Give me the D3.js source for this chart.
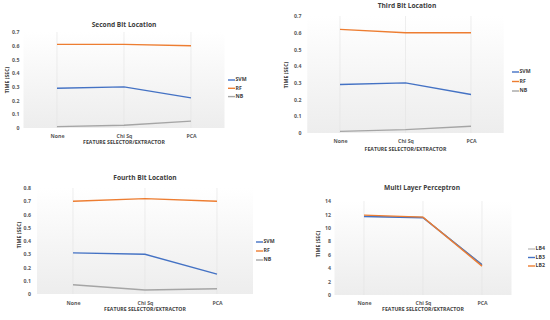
<!DOCTYPE html>
<html><head><meta charset="utf-8">
<script src="https://cdn.jsdelivr.net/npm/d3@7"></script>
<style>body{margin:0;background:#fff}svg{display:block}text{font-family:"Open Sans","Liberation Sans",sans-serif;font-weight:bold}</style>
</head><body>
<svg id="c" width="550" height="320"></svg>
<script>
const categories = ["None", "Chi Sq", "PCA"];
// Second Bit Location
const p1SVM = [0.29, 0.30, 0.22];
const p1RF  = [0.61, 0.61, 0.60];
const p1NB  = [0.01, 0.02, 0.05];
// Third Bit Location
const p2SVM = [0.29, 0.30, 0.23];
const p2RF  = [0.62, 0.60, 0.60];
const p2NB  = [0.01, 0.02, 0.04];
// Fourth Bit Location
const p3SVM = [0.31, 0.30, 0.15];
const p3RF  = [0.70, 0.72, 0.70];
const p3NB  = [0.07, 0.03, 0.04];
// Multi Layer Perceptron
const p4LB4 = [11.7, 11.6, 4.6];
const p4LB3 = [11.7, 11.5, 4.5];
const p4LB2 = [11.9, 11.6, 4.3];

const ticks1 = [0, 0.1, 0.2, 0.3, 0.4, 0.5, 0.6, 0.7];
const ticks3 = [0, 0.1, 0.2, 0.3, 0.4, 0.5, 0.6, 0.7, 0.8];
const ticks4 = [0, 2, 4, 6, 8, 10, 12, 14];

const BLUE = "#4472C4", ORANGE = "#ED7D31", GRAY = "#A5A5A5";

const svg = d3.select("#c");
const defs = svg.append("defs");
const grad = defs.append("linearGradient").attr("id", "bg").attr("x1", 0).attr("y1", 0).attr("x2", 0).attr("y2", 1);
grad.append("stop").attr("offset", "0%").attr("stop-color", "#ffffff");
grad.append("stop").attr("offset", "100%").attr("stop-color", "#ededed");

function panel(o) {
  const g = svg.append("g");
  const x = d3.scalePoint().domain(categories).range([o.x0, o.x1]);
  const y = d3.scaleLinear().domain([0, o.max]).range([o.yb, o.yt]);
  const step = x.step();
  g.append("rect").attr("x", o.x0 - step / 2).attr("y", o.yt).attr("width", o.x1 - o.x0 + step)
    .attr("height", o.yb - o.yt).attr("fill", "url(#bg)");
  // vertical gridlines
  g.selectAll(".vg").data(categories).enter().append("line")
    .attr("x1", d => x(d)).attr("x2", d => x(d)).attr("y1", o.yt).attr("y2", o.yb)
    .attr("stroke", "#e2e2e2").attr("stroke-width", 0.6);
  // y axis
  const ya = d3.axisLeft(y).tickValues(o.ticks).tickSize(0).tickPadding(0)
    .tickFormat(d => o.max > 1 ? d : (d === 0 ? "0" : d3.format(".1f")(d)));
  const ay = g.append("g").attr("transform", `translate(${o.tx},0)`).call(ya);
  ay.select(".domain").remove();
  ay.selectAll("text").attr("font-size", 5.2).attr("fill", "#595959").attr("font-family", "Open Sans, sans-serif").attr("font-weight", "bold");
  // x axis
  const xa = d3.axisBottom(x).tickSize(0).tickPadding(0);
  const ax = g.append("g").attr("transform", `translate(0,${o.xl})`).call(xa);
  ax.select(".domain").remove();
  ax.selectAll("text").attr("font-size", 5.2).attr("fill", "#595959").attr("dy", "0.35em").attr("y", 0)
    .attr("font-family", "Open Sans, sans-serif").attr("font-weight", "bold");
  // titles
  g.append("text").attr("x", o.tcx).attr("y", o.ty).attr("text-anchor", "middle").attr("dominant-baseline", "middle")
    .attr("font-size", 6.6).attr("fill", "#404040").text(o.title);
  g.append("text").attr("x", (o.x0 + o.x1) / 2).attr("y", o.xt).attr("text-anchor", "middle").attr("dominant-baseline", "middle")
    .attr("font-size", 5.2).attr("fill", "#404040").text("FEATURE SELECTOR/EXTRACTOR");
  g.append("text").attr("transform", `translate(${o.ytx},${o.yty}) rotate(-90)`).attr("text-anchor", "middle")
    .attr("dominant-baseline", "middle").attr("font-size", 5.2).attr("fill", "#404040").text("TIME (SEC)");
  const line = d3.line().x((d, i) => x(categories[i])).y(d => y(d));
  o.series.forEach(s => {
    g.append("path").datum(s.v).attr("d", line).attr("fill", "none").attr("stroke", s.c).attr("stroke-width", s.w || 1.4);
  });
  o.legend.forEach((s, i) => {
    const ly = o.ly + i * o.lgap;
    g.append("line").attr("x1", o.lx).attr("x2", o.lx + 7).attr("y1", ly).attr("y2", ly).attr("stroke", s.c).attr("stroke-width", s.w || 1.4);
    g.append("text").attr("x", o.lx + 7.5).attr("y", ly).attr("dominant-baseline", "middle").attr("font-size", 5.2)
      .attr("fill", "#404040").text(s.n);
  });
}

const leg3 = (svm, rf, nb) => [{n: "SVM", c: BLUE, v: svm}, {n: "RF", c: ORANGE, v: rf}, {n: "NB", c: GRAY, v: nb}];

let s1 = leg3(p1SVM, p1RF, p1NB);
panel({x0: 57, x1: 191, yt: 32, yb: 128, max: 0.7, ticks: ticks1, tx: 19.5, xl: 136, xt: 143,
  title: "Second Bit Location", tcx: 124, ty: 25, ytx: 8, yty: 80,
  series: [s1[2], s1[0], s1[1]], legend: s1, lx: 228, ly: 80, lgap: 8.3});

let s2 = leg3(p2SVM, p2RF, p2NB);
panel({x0: 340, x1: 471, yt: 16, yb: 133, max: 0.7, ticks: ticks1, tx: 301.5, xl: 141, xt: 150,
  title: "Third Bit Location", tcx: 407, ty: 6, ytx: 287, yty: 75,
  series: [s2[2], s2[0], s2[1]], legend: s2, lx: 512, ly: 72, lgap: 9.5});

let s3 = leg3(p3SVM, p3RF, p3NB);
panel({x0: 73, x1: 217, yt: 188, yb: 294, max: 0.8, ticks: ticks3, tx: 31, xl: 303, xt: 310,
  title: "Fourth Bit Location", tcx: 145, ty: 178, ytx: 20, yty: 235,
  series: [s3[2], s3[0], s3[1]], legend: s3, lx: 256, ly: 242, lgap: 9});

let s4 = [{n: "LB4", c: GRAY, v: p4LB4, w: 1}, {n: "LB3", c: BLUE, v: p4LB3, w: 1.4}, {n: "LB2", c: ORANGE, v: p4LB2, w: 1.4}];
panel({x0: 364, x1: 482, yt: 201, yb: 295, max: 14, ticks: ticks4, tx: 331, xl: 303, xt: 310,
  title: "Multi Layer Perceptron", tcx: 422, ty: 188, ytx: 319, yty: 244,
  series: s4, legend: s4, lx: 528, ly: 249, lgap: 8.5});
</script>
</body></html>
